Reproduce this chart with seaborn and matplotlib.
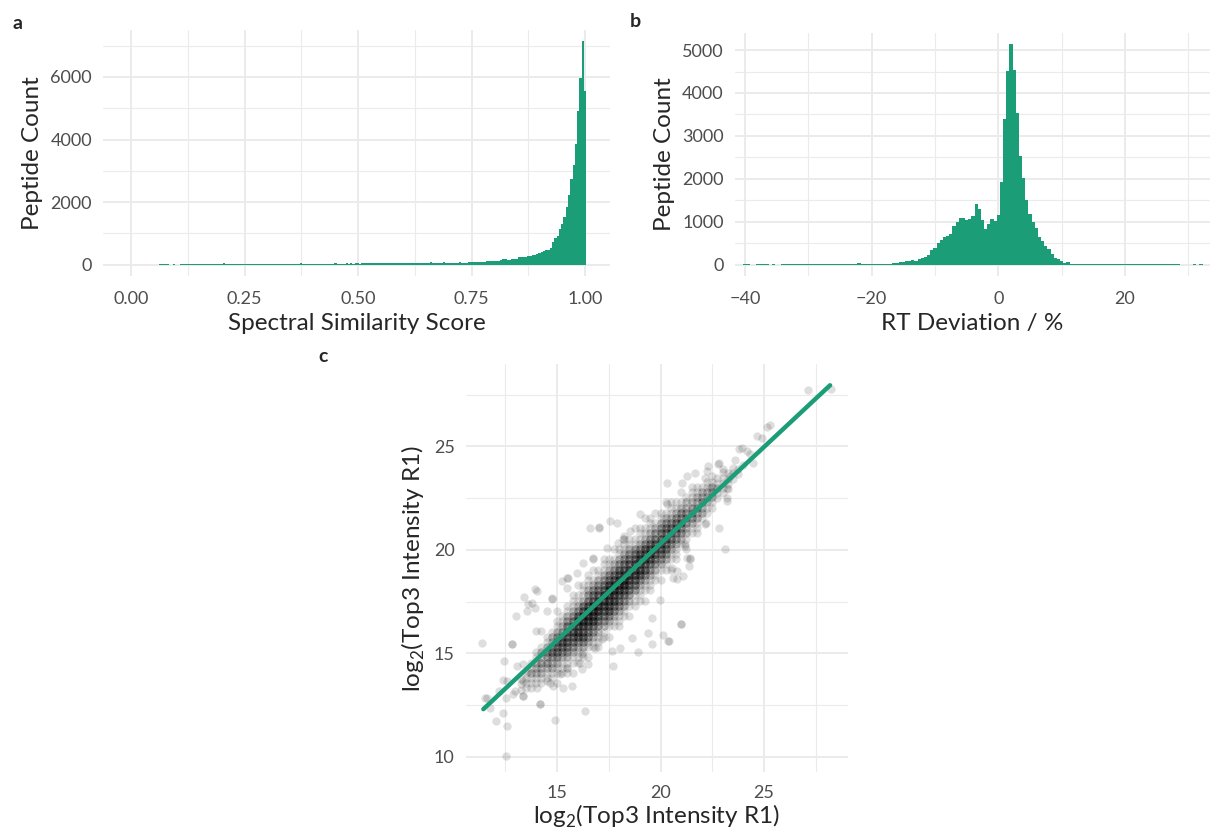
import numpy as np
import pandas as pd
import matplotlib
matplotlib.use("Agg")
import matplotlib.pyplot as plt
import seaborn as sns
from matplotlib.ticker import MultipleLocator, FormatStrFormatter

# panel a: spectral similarity histogram (bins of 0.005, first centre 0.065)
a_start = 0.065
a_width = 0.005
a_counts = [
    15, 15, 15, 15, 0, 0, 12, 0, 0, 12,
    15, 18, 16, 18, 17, 18, 16, 18, 18, 17,
    18, 19, 17, 18, 18, 20, 18, 19, 45, 19,
    18, 20, 19, 18, 20, 19, 21, 20, 19, 20,
    21, 20, 22, 20, 21, 22, 20, 21, 22, 23,
    40, 40, 22, 23, 22, 24, 23, 22, 24, 25,
    24, 25, 45, 32, 34, 33, 35, 34, 36, 33,
    35, 36, 34, 37, 36, 35, 38, 60, 38, 37,
    39, 38, 55, 40, 41, 40, 42, 41, 40, 43,
    42, 44, 41, 43, 44, 42, 60, 45, 44, 46,
    45, 47, 65, 48, 47, 49, 48, 62, 50, 65,
    50, 60, 52, 51, 53, 52, 54, 53, 52, 75,
    56, 55, 57, 58, 56, 75, 57, 58, 60, 58,
    60, 59, 78, 61, 62, 60,
    86, 84, 88, 86, 86, 90, 86, 88,
    118, 118, 118, 128, 128, 128, 139,
    182, 182, 160, 160, 182, 182, 182,
    246, 246, 257, 257, 267, 278, 310, 320, 342, 370,
    396, 450, 470, 481, 535, 717, 845, 930, 1144, 1315,
    1529, 1861, 2225, 2749, 3176, 3850, 4920, 5968, 7155, 5561,
]

# panel b: RT deviation histogram (bins of 0.5, first centre -40)
b_start = -40.0
b_width = 0.5
b_counts = [
    12, 12, 0, 0, 12, 12, 12, 12, 0, 12, 0, 0, 12,
    12, 12, 12, 12, 12, 12, 12, 12, 12, 12, 12, 12,
    12, 12, 12, 12, 12, 12, 12, 12, 12, 12, 12,
    40, 12, 12,
    25, 25, 25, 25, 25, 25, 25, 30,
    46, 46, 70, 70, 95, 100, 115, 92, 138, 170,
    185, 230, 346, 400, 515, 577, 640, 670, 715, 915,
    990, 1085, 1085, 1046, 1070, 1130, 1408, 1308, 1040, 830,
    946, 1060, 1015, 1154, 1940, 3390, 4515, 5146, 4540, 3540,
    2540, 2015, 1500, 1185, 990, 855, 655, 560, 440, 377,
    254, 154, 130, 85, 46, 70, 25, 25, 25, 25,
    14, 14, 14, 14, 14, 14, 14, 14, 14, 14, 14, 14, 14, 14, 14, 14,
    14, 14, 14, 14, 14, 14, 14, 14, 14, 14, 14, 14, 14, 14, 14,
    0, 0, 0, 0, 14, 0, 14,
]

# panel c: dense core read as stacked counts per station (x, centre y, counts at offsets)
core_offsets = [-2.0, -1.75, -1.5, -1.25, -1.0, -0.75, -0.5, -0.25, 0.0,
                0.25, 0.5, 0.75, 1.0, 1.25, 1.5, 1.75, 2.0]
core_x = [13.25, 13.5, 13.75, 14.0, 14.25, 14.5, 14.75, 15.0, 15.25, 15.5, 15.75,
          16.0, 16.25, 16.5, 16.75, 17.0, 17.25, 17.5, 17.75, 18.0, 18.25, 18.5,
          18.75, 19.0, 19.25, 19.5, 19.75, 20.0, 20.25, 20.5, 20.75, 21.0, 21.25,
          21.5, 21.75, 22.0, 22.25, 22.5, 22.75, 23.0, 23.25, 23.5, 23.75, 24.0]
core_yc = [13.5, 13.8, 14.05, 14.3, 14.55, 14.8, 15.05, 15.3, 15.55, 15.8, 16.05,
           16.3, 16.55, 16.8, 17.05, 17.3, 17.55, 17.8, 18.05, 18.3, 18.55, 18.8,
           19.05, 19.3, 19.55, 19.8, 20.05, 20.3, 20.55, 20.8, 21.05, 21.3, 21.55,
           21.8, 22.05, 22.3, 22.55, 22.8, 23.0, 23.25, 23.45, 23.7, 23.9, 24.1]
core_counts = [
    [0, 0, 0, 0, 0, 0, 0, 1, 1, 1, 0, 0, 0, 0, 0, 0, 0],
    [0, 0, 0, 0, 0, 0, 1, 1, 1, 1, 0, 0, 0, 0, 0, 0, 0],
    [0, 0, 0, 0, 0, 1, 1, 1, 2, 1, 1, 0, 0, 0, 0, 0, 0],
    [0, 0, 0, 0, 0, 1, 1, 2, 2, 2, 1, 1, 0, 0, 0, 0, 0],
    [0, 0, 0, 0, 1, 1, 2, 2, 3, 2, 2, 1, 0, 0, 0, 0, 0],
    [0, 0, 0, 0, 1, 1, 2, 3, 3, 3, 2, 1, 1, 0, 0, 0, 0],
    [0, 0, 0, 1, 1, 2, 2, 3, 4, 3, 2, 2, 1, 0, 0, 0, 0],
    [0, 1, 0, 1, 1, 2, 3, 4, 4, 4, 3, 2, 1, 1, 0, 1, 0],
    [0, 0, 1, 1, 1, 2, 3, 4, 5, 4, 3, 2, 1, 1, 0, 0, 0],
    [0, 1, 1, 1, 2, 3, 4, 5, 5, 5, 4, 3, 2, 1, 1, 0, 0],
    [1, 0, 1, 1, 2, 3, 4, 5, 6, 5, 4, 3, 2, 1, 1, 1, 0],
    [0, 1, 1, 1, 2, 3, 5, 6, 6, 6, 5, 3, 2, 1, 1, 0, 1],
    [0, 1, 1, 2, 3, 4, 5, 6, 7, 6, 5, 4, 2, 1, 1, 1, 0],
    [1, 0, 1, 2, 3, 4, 5, 6, 7, 6, 5, 4, 3, 2, 1, 1, 1],
    [0, 1, 1, 2, 3, 4, 6, 6, 7, 6, 5, 4, 3, 2, 1, 0, 1],
    [1, 1, 1, 2, 3, 4, 5, 7, 7, 6, 5, 4, 3, 2, 1, 1, 0],
    [0, 1, 1, 2, 3, 4, 5, 6, 7, 7, 5, 4, 3, 2, 1, 1, 1],
    [1, 0, 1, 2, 3, 5, 5, 6, 7, 6, 6, 4, 3, 2, 1, 1, 0],
    [0, 1, 1, 2, 3, 4, 6, 6, 7, 6, 5, 4, 3, 2, 1, 0, 1],
    [1, 1, 1, 2, 3, 4, 5, 6, 7, 6, 5, 5, 3, 2, 1, 1, 0],
    [0, 1, 1, 2, 3, 4, 5, 7, 7, 6, 5, 4, 3, 2, 1, 1, 1],
    [1, 0, 1, 2, 3, 4, 5, 6, 7, 6, 5, 4, 3, 2, 1, 1, 0],
    [0, 1, 1, 1, 3, 4, 5, 6, 6, 6, 5, 4, 3, 1, 1, 0, 1],
    [0, 1, 1, 1, 2, 3, 5, 6, 6, 6, 5, 3, 2, 1, 1, 1, 0],
    [1, 0, 1, 1, 2, 3, 5, 5, 6, 5, 5, 3, 2, 1, 1, 0, 1],
    [0, 1, 1, 1, 2, 3, 4, 5, 6, 5, 4, 3, 2, 1, 1, 1, 0],
    [0, 0, 1, 1, 2, 3, 4, 5, 5, 5, 4, 3, 2, 1, 0, 1, 0],
    [0, 1, 0, 1, 2, 3, 4, 5, 5, 5, 4, 3, 2, 1, 1, 0, 0],
    [0, 0, 1, 1, 2, 3, 4, 4, 5, 4, 4, 3, 2, 1, 0, 1, 0],
    [0, 1, 0, 1, 1, 2, 3, 4, 4, 4, 3, 2, 1, 1, 1, 0, 0],
    [0, 0, 1, 1, 1, 2, 3, 4, 4, 4, 3, 2, 1, 1, 0, 0, 0],
    [0, 0, 0, 0, 1, 2, 3, 3, 4, 3, 3, 2, 1, 0, 1, 0, 0],
    [0, 0, 1, 0, 1, 2, 2, 3, 3, 3, 2, 2, 1, 0, 0, 0, 0],
    [0, 0, 0, 0, 1, 1, 2, 3, 3, 3, 2, 1, 1, 1, 0, 0, 0],
    [0, 0, 0, 1, 1, 1, 2, 2, 3, 2, 2, 1, 1, 0, 0, 0, 0],
    [0, 0, 0, 0, 0, 1, 2, 2, 3, 2, 2, 1, 0, 0, 0, 0, 0],
    [0, 0, 0, 0, 0, 1, 1, 2, 2, 2, 1, 1, 0, 1, 0, 0, 0],
    [0, 0, 0, 0, 0, 1, 1, 2, 2, 2, 1, 1, 0, 0, 0, 0, 0],
    [0, 0, 0, 0, 0, 0, 1, 1, 2, 1, 1, 0, 0, 0, 0, 0, 0],
    [0, 0, 0, 0, 0, 0, 1, 1, 1, 1, 1, 0, 0, 0, 0, 0, 0],
    [0, 0, 0, 0, 0, 0, 1, 1, 1, 1, 0, 0, 0, 0, 0, 0, 0],
    [0, 0, 0, 0, 0, 0, 0, 1, 1, 1, 0, 0, 0, 0, 0, 0, 0],
    [0, 0, 0, 0, 0, 0, 0, 1, 1, 0, 0, 0, 0, 0, 0, 0, 0],
    [0, 0, 0, 0, 0, 0, 0, 0, 1, 0, 0, 0, 0, 0, 0, 0, 0],
]

# scattered single peptides outside the core
halo_x = [11.39, 11.60, 12.04, 12.54, 12.60, 12.38, 12.54, 12.46, 12.41, 12.57,
          12.83, 12.97, 13.02, 13.34, 13.37, 13.41, 13.62, 13.94, 13.95, 13.99,
          14.02, 14.18, 14.50, 14.50, 14.74, 14.82, 14.89, 15.31, 15.47, 15.71,
          16.35, 16.19, 16.19, 16.76, 16.59, 17.05, 17.56, 17.88, 17.72, 17.64,
          18.04, 18.17, 18.93, 19.01, 19.41, 19.57, 19.98, 20.14, 20.38, 20.30,
          20.30, 21.00, 20.59, 21.10, 21.26, 21.43, 21.26, 21.67, 21.18, 22.20,
          22.84, 23.12, 23.23, 22.84, 23.04, 23.81, 23.92, 24.32, 24.45, 24.65,
          24.89, 25.13, 25.29, 27.14, 28.22, 23.60, 23.36, 22.39, 11.52, 11.76,
          12.81, 13.05, 13.37, 13.61, 12.89, 13.37, 14.18, 14.66, 15.14, 15.47,
          16.11, 16.51, 16.84, 16.27, 17.16, 18.61, 19.57, 20.43, 20.97, 20.78,
          21.39, 21.43, 20.78, 20.54, 21.18, 22.15, 23.20, 23.20, 22.79, 24.19,
          17.03, 17.40, 17.96, 18.53, 18.24, 21.02, 22.15, 22.31, 16.27, 16.76,
          15.55, 15.95, 15.47, 13.53, 14.21, 15.23, 14.02, 13.78, 14.74, 12.20]
halo_y = [15.52, 12.86, 11.73, 10.04, 11.49, 12.13, 12.86, 14.63, 13.71, 13.66,
          15.47, 13.18, 16.80, 12.94, 14.47, 17.72, 17.37, 18.09, 17.21, 16.08,
          13.34, 12.54, 17.05, 13.66, 17.69, 13.42, 11.78, 13.34, 18.66, 13.42,
          12.21, 14.23, 14.95, 19.54, 21.07, 21.10, 21.39, 21.31, 14.39, 15.11,
          15.27, 20.51, 15.08, 21.76, 16.00, 15.43, 17.56, 15.89, 15.60, 22.20,
          23.24, 16.43, 18.66, 18.74, 19.62, 19.59, 23.57, 23.73, 20.18, 21.28,
          21.07, 20.06, 22.36, 24.21, 23.89, 24.86, 24.94, 24.65, 24.21, 25.50,
          25.42, 25.95, 26.03, 27.75, 27.80, 24.37, 23.57, 23.00, 12.86, 12.38,
          15.43, 14.39, 13.66, 14.15, 13.02, 12.94, 12.57, 13.58, 13.98, 14.31,
          14.55, 14.47, 15.27, 15.76, 15.68, 15.76, 16.72, 15.60, 16.40, 18.57,
          19.22, 19.54, 18.98, 19.14, 20.27, 21.26, 22.52, 23.00, 24.16, 24.77,
          21.07, 20.10, 20.35, 20.91, 20.67, 23.24, 23.49, 24.05, 19.38, 19.62,
          18.66, 18.90, 18.17, 17.05, 16.08, 18.49, 18.01, 17.45, 17.61, 13.20]

# fitted line
fit_x = [11.44, 28.19]
fit_y = [12.30, 27.96]

GREEN = "#1B9E77"

sns.set_theme(style="whitegrid")
plt.rcParams["font.family"] = ["Lato", "DejaVu Sans"]
plt.rcParams["mathtext.fontset"] = "custom"
plt.rcParams["mathtext.rm"] = "Lato"


def style_axis(ax, xpad=11, xlabelpad=4):
    ax.set_facecolor("white")
    for s in ax.spines.values():
        s.set_visible(False)
    ax.grid(True, which="major", color="#ebebeb", linewidth=1.4)
    ax.grid(True, which="minor", color="#ebebeb", linewidth=0.8)
    ax.set_axisbelow(True)
    ax.tick_params(which="both", length=0, labelsize=13, labelcolor="#4d4d4d", pad=8)
    ax.tick_params(axis="x", pad=xpad)
    ax.xaxis.label.set_size(17.5)
    ax.yaxis.label.set_size(17.5)
    ax.xaxis.labelpad = xlabelpad
    ax.yaxis.labelpad = 5


def weighted_hist(ax, start, width, counts):
    centers = start + width * np.arange(len(counts))
    df = pd.DataFrame({"value": centers, "count": counts})
    sns.histplot(data=df, x="value", weights="count", binwidth=width,
                 binrange=(start - width / 2, centers[-1] + width / 2),
                 ax=ax, color=GREEN, alpha=1, linewidth=0)


fig = plt.figure(figsize=(12.16, 8.36), dpi=100)
ax_a = fig.add_axes([0.0847, 0.6699, 0.4169, 0.2947])
ax_b = fig.add_axes([0.6044, 0.6699, 0.3906, 0.2910])
ax_c = fig.add_axes([0.3830, 0.0760, 0.3141, 0.4884])

# panel a
weighted_hist(ax_a, a_start, a_width, a_counts)
ax_a.set_xlim(-0.062, 1.055)
ax_a.set_ylim(-358, 7513)
ax_a.xaxis.set_major_locator(MultipleLocator(0.25))
ax_a.xaxis.set_minor_locator(MultipleLocator(0.125))
ax_a.xaxis.set_major_formatter(FormatStrFormatter("%.2f"))
ax_a.yaxis.set_major_locator(MultipleLocator(2000))
ax_a.yaxis.set_minor_locator(MultipleLocator(1000))
ax_a.set_xlabel("Spectral Similarity Score")
ax_a.set_ylabel("Peptide Count")
style_axis(ax_a)

# panel b
weighted_hist(ax_b, b_start, b_width, b_counts)
ax_b.set_xlim(-41.6, 33.4)
ax_b.set_ylim(-257, 5403)
ax_b.xaxis.set_major_locator(MultipleLocator(20))
ax_b.xaxis.set_minor_locator(MultipleLocator(10))
ax_b.yaxis.set_major_locator(MultipleLocator(1000))
ax_b.yaxis.set_minor_locator(MultipleLocator(500))
ax_b.set_xlabel("RT Deviation / %")
ax_b.set_ylabel("Peptide Count")
style_axis(ax_b)

# panel c
pts_x, pts_y = [], []
for cx, cy, row in zip(core_x, core_yc, core_counts):
    for off, n in zip(core_offsets, row):
        pts_x += [cx] * n
        pts_y += [cy + off] * n
pts_x += halo_x
pts_y += halo_y
sns.scatterplot(x=pts_x, y=pts_y, ax=ax_c, color="black", alpha=0.13,
                s=36, linewidth=0)
sns.lineplot(x=fit_x, y=fit_y, ax=ax_c, color=GREEN, linewidth=3.2)
ax_c.set_xlim(10.59, 29.04)
ax_c.set_ylim(9.24, 28.98)
ax_c.xaxis.set_major_locator(MultipleLocator(5))
ax_c.xaxis.set_minor_locator(MultipleLocator(2.5))
ax_c.yaxis.set_major_locator(MultipleLocator(5))
ax_c.yaxis.set_minor_locator(MultipleLocator(2.5))
ax_c.set_xlabel(r"log$_2$(Top3 Intensity R1)")
ax_c.set_ylabel(r"log$_2$(Top3 Intensity R1)")
style_axis(ax_c, xpad=9, xlabelpad=1)

fig.text(0.010, 0.972, "a", fontsize=14, fontweight="bold", va="center")
fig.text(0.518, 0.974, "b", fontsize=14, fontweight="bold", va="center")
fig.text(0.262, 0.574, "c", fontsize=14, fontweight="bold", va="center")

fig.savefig("out.png", dpi=100)
